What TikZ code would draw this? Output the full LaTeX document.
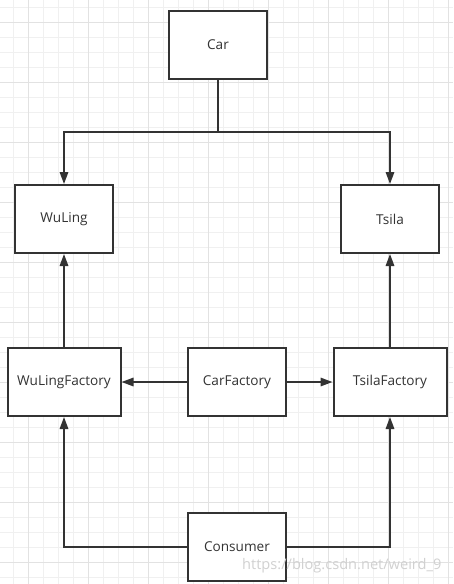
\documentclass[tikz,border=0pt]{standalone}
\usepackage{fontspec}
\setmainfont{Open Sans}
\usetikzlibrary{arrows.meta}
\definecolor{ink}{HTML}{333333}
\definecolor{gridminor}{HTML}{F0F0F0}
\definecolor{gridmajor}{HTML}{E2E2E2}

\begin{document}
\begin{tikzpicture}[
    x=1pt, y=-1pt,
    font=\fontsize{13.6}{16}\selectfont,
    box/.style={rectangle, draw=ink, line width=2pt, fill=white, text=ink,
                minimum width=98pt, minimum height=68pt, inner sep=2pt},
    widebox/.style={box, minimum width=113pt},
    arr/.style={-{Triangle[length=12pt, width=8.5pt]}, draw=ink,
                line width=1.6pt},
]
\useasboundingbox (0,0) rectangle (453,584);
\fill[white] (0,0) rectangle (453,584);

% grid
\foreach \gx in {13,28,...,448} \draw[gridminor, line width=0.8pt] (\gx,0) -- (\gx,584);
\foreach \gy in {7,22,...,577}  \draw[gridminor, line width=0.8pt] (0,\gy) -- (453,\gy);
\foreach \gx in {28,88,...,448} \draw[gridmajor, line width=0.8pt] (\gx,0) -- (\gx,584);
\foreach \gy in {22,82,...,562} \draw[gridmajor, line width=0.8pt] (0,\gy) -- (453,\gy);

\node[box]     (car)       at (218,45)  {Car};
\node[box]     (wuling)    at (64,219)  {WuLing};
\node[box]     (tsila)     at (390,219) {Tsila};
\node[widebox] (wulingfac) at (64,382)  {WuLingFactory};
\node[box]     (carfac)    at (237,382) {CarFactory};
\node[widebox] (tsilafac)  at (390,382) {TsilaFactory};
\node[box]     (consumer)  at (237,547) {Consumer};

\coordinate (split) at (218,132);

\draw[arr] (car.south) -- (split) -| (wuling.north);
\draw[arr] (split) -| (tsila.north);

\draw[arr] (wulingfac) -- (wuling);
\draw[arr] (tsilafac)  -- (tsila);

\draw[arr] (carfac) -- (wulingfac);
\draw[arr] (carfac) -- (tsilafac);

\draw[arr] (consumer.west) -| (wulingfac.south);
\draw[arr] (consumer.east) -| (tsilafac.south);

% watermark
\node[text=black!18, font=\fontsize{14.6}{16}\selectfont, anchor=east] (mark)
     at (445,566) {https://blog.csdn.net/weird\_9};

\end{tikzpicture}
\end{document}
